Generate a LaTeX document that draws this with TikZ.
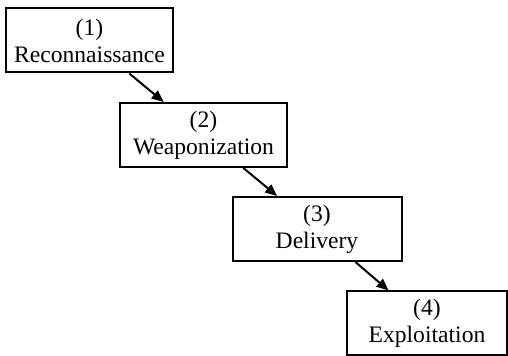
\documentclass[tikz,border=0pt]{standalone}
\usepackage{fontspec}
\setmainfont{Liberation Serif}
\usetikzlibrary{positioning}
\usetikzlibrary{arrows.meta}

\tikzset{
	stage/.style = {draw, black, line width = 1pt, minimum height = 32pt, inner sep = 0pt, align = center, font = \fontsize{11.8}{13.5}\selectfont},
	flow/.style = {black, line width = 1pt, -{Triangle[length = 6pt, width = 5pt]}}
}

\begin{document}
\begin{tikzpicture}[x = 0.5pt, y = -0.5pt]
							\useasboundingbox (0, 0) rectangle (508, 356);
							\node [stage, minimum width = 83.5pt] (recon) at (89.5, 40.5) {(1)\\Reconnaissance};
							\node [stage, minimum width = 83.5pt] (weapon) at (203.5, 135) {(2)\\Weaponization};
							\node [stage, minimum width = 84.5pt] (deliver) at (317, 229) {(3)\\Delivery};
							\node [stage, minimum width = 80pt] (exploit) at (427, 323.5) {(4)\\Exploitation};
							\draw [flow] (recon) -- (weapon);
							\draw [flow] (weapon) -- (deliver);
							\draw [flow] (deliver) -- (exploit);
						\end{tikzpicture}
\end{document}
